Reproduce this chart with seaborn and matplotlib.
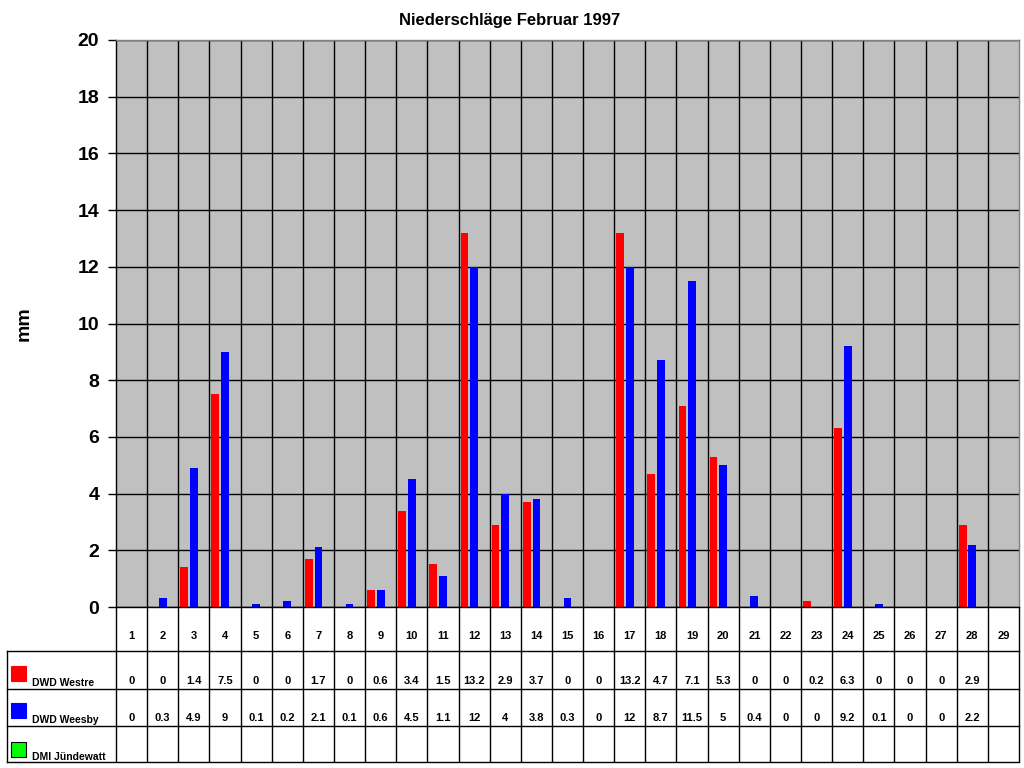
import numpy as np
import pandas as pd
import seaborn as sns
import matplotlib.pyplot as plt

# daily precipitation, February 1997 (mm)
days = [str(d) for d in range(1, 30)]
westre = [0, 0, 1.4, 7.5, 0, 0, 1.7, 0, 0.6, 3.4, 1.5, 13.2, 2.9, 3.7, 0, 0,
          13.2, 4.7, 7.1, 5.3, 0, 0, 0.2, 6.3, 0, 0, 0, 2.9, None]
weesby = [0, 0.3, 4.9, 9, 0.1, 0.2, 2.1, 0.1, 0.6, 4.5, 1.1, 12, 4, 3.8, 0.3, 0,
          12, 8.7, 11.5, 5, 0.4, 0, 0, 9.2, 0.1, 0, 0, 2.2, None]
juendewatt = [None] * 29

stations = ['DWD Westre', 'DWD Weesby', 'DMI Jündewatt']
colors = ['#FF0000', '#0000FF', '#00FF00']
yticks = list(range(0, 21, 2))

series = {'DWD Westre': westre, 'DWD Weesby': weesby, 'DMI Jündewatt': juendewatt}
rows = []
for name, vals in series.items():
    for d, v in zip(days, vals):
        rows.append({'Tag': d, 'Station': name, 'mm': np.nan if v is None else v})
df = pd.DataFrame(rows)

plt.rcParams['font.family'] = ['Liberation Sans', 'DejaVu Sans']
plt.rcParams['font.weight'] = 'bold'

fig = plt.figure(figsize=(10.24, 7.68), dpi=100)
ax = fig.add_axes([116 / 1024, 1 - 607 / 768, 903 / 1024, 567 / 768])
ax.set_facecolor('#C0C0C0')

sns.barplot(data=df, x='Tag', y='mm', hue='Station', order=days,
            hue_order=stations, palette=colors, saturation=1,
            width=0.93, gap=0.2, errorbar=None, linewidth=0,
            legend=False, ax=ax)

n = len(days)
ax.set_xlim(-0.5, n - 0.5)
ax.set_ylim(0, 20)
ax.set_yticks(yticks)
ax.set_yticklabels([str(t) for t in yticks], fontsize=14, fontweight='bold')
ax.tick_params(axis='y', direction='out', length=6, width=1, pad=6, colors='black')
ax.set_xticks([])
ax.set_xticks(np.arange(0.5, n - 1, 1), minor=True)
ax.tick_params(axis='x', which='both', length=0, labelbottom=False)
ax.set_xlabel('')
ax.set_ylabel('mm', fontsize=14, fontweight='bold')
ax.yaxis.set_label_coords((33 - 116) / 903, 0.5)
ax.set_axisbelow(True)
ax.grid(axis='y', which='major', color='black', lw=1)
ax.grid(axis='x', which='minor', color='black', lw=1)

for side in ['top', 'right']:
    ax.spines[side].set_color('#808080')
for side in ['left', 'bottom']:
    ax.spines[side].set_color('black')
for s in ax.spines.values():
    s.set_linewidth(1)

fig.text(0.498, 1 - 20 / 768, 'Niederschläge Februar 1997', ha='center',
         va='center', fontsize=12, fontweight='bold')

# data table under the chart
tx = ax.get_xaxis_transform()
row_lines = [-44 / 567, -82 / 567, -119 / 567, -155 / 567]
left = (7 - 116) / 903
bottom = row_lines[-1]
ax.vlines(np.arange(-0.5, n, 1), bottom, 0, colors='black', lw=1,
          transform=tx, clip_on=False)
for yl in row_lines:
    ax.plot([left, 1], [yl, yl], color='black', lw=1,
            transform=ax.transAxes, clip_on=False)
ax.plot([left, left], [row_lines[0], bottom], color='black', lw=1,
        transform=ax.transAxes, clip_on=False)

for i, d in enumerate(days):
    ax.text(i, -29 / 567, d, transform=tx, ha='center', va='center',
            fontsize=8, fontweight='bold')

text_y = [-74 / 567, -111 / 567, -148 / 567]
key_y = [-66 / 567, -103 / 567, -142 / 567]
key_px = 15
for name, col, ty, ky in zip(stations, colors, text_y, key_y):
    vals = series[name]
    for i, v in enumerate(vals):
        if v is None:
            continue
        lab = f'{v:g}'
        ax.text(i, ty, lab, transform=tx, ha='center', va='center',
                fontsize=8, fontweight='bold')
    kx = (11 - 116) / 903
    ax.add_patch(plt.Rectangle((kx, ky - key_px / 2 / 567), key_px / 903,
                               key_px / 567, transform=ax.transAxes,
                               facecolor=col,
                               edgecolor='black' if name == 'DMI Jündewatt' else col,
                               lw=0.8, clip_on=False))
    ax.text((32 - 116) / 903, ty - 2 / 567, name, transform=ax.transAxes,
            ha='left', va='center', fontsize=7.5, fontweight='bold')

fig.savefig('out.png', dpi=100)
